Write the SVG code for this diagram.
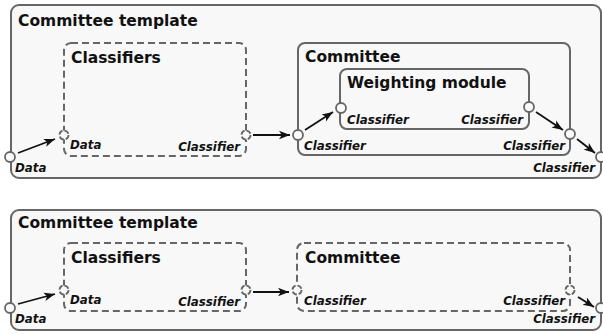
<svg xmlns="http://www.w3.org/2000/svg" width="603" height="334" viewBox="0 0 603 334">
<style>
.frame{fill:#f8f8f8;stroke:#666;stroke-width:2}
.box{fill:#f8f8f8;stroke:#666;stroke-width:2}
.dbox{fill:none;stroke:#666;stroke-width:2;stroke-dasharray:7,4}
.port{fill:#fafafa;stroke:#666;stroke-width:1.8}
.dport{fill:#f8f8f8;stroke:#666;stroke-width:1.8;stroke-dasharray:5.07,2}
.title{font-family:"DejaVu Sans",sans-serif;font-weight:bold;font-size:15.5px;fill:#111}
.lbl{font-family:"DejaVu Sans",sans-serif;font-weight:bold;font-style:italic;font-size:11.8px;fill:#111}
.end{text-anchor:end}
.conn{stroke:#111;stroke-width:1.8;fill:none;marker-end:url(#ah)}
</style>
<defs>
<marker id="ah" markerUnits="userSpaceOnUse" markerWidth="12" markerHeight="10" refX="11" refY="5" orient="auto">
<path d="M0,0.8 L11,5 L0,9.2 L2.8,5 z" fill="#111"/>
</marker>
</defs>

<g id="top-template">
<rect class="frame" x="11" y="5" width="590" height="173" rx="8"/>
<text class="title" x="18" y="26">Committee template</text>
<circle class="port" cx="10" cy="157" r="5"/>
<text class="lbl" x="15" y="172">Data</text>
<circle class="port" cx="601" cy="157" r="5"/>
<text class="lbl end" x="595" y="172">Classifier</text>
</g>
<g id="top-classifiers">
<rect class="dbox" x="64" y="43" width="182" height="113" rx="7"/>
<text class="title" x="71" y="63">Classifiers</text>
<circle class="dport" cx="64" cy="135" r="4.5"/>
<text class="lbl" x="70" y="149">Data</text>
<circle class="dport" cx="246" cy="135" r="4.5"/>
<text class="lbl end" x="240" y="151">Classifier</text>
</g>
<g id="top-committee">
<rect class="box" x="298" y="43" width="272" height="112" rx="7"/>
<text class="title" x="305" y="62">Committee</text>
<circle class="port" cx="298" cy="135" r="5"/>
<text class="lbl" x="304" y="150">Classifier</text>
<circle class="port" cx="570" cy="134" r="5"/>
<text class="lbl end" x="565" y="150">Classifier</text>
</g>
<g id="top-weighting">
<rect class="box" x="340" y="69" width="189" height="60" rx="7"/>
<text class="title" x="347" y="88">Weighting module</text>
<circle class="port" cx="341" cy="108" r="5"/>
<text class="lbl" x="347" y="124">Classifier</text>
<circle class="port" cx="529" cy="107" r="5"/>
<text class="lbl end" x="523" y="124">Classifier</text>
</g>

<g id="bottom-template">
<rect class="frame" x="11" y="210" width="590" height="120" rx="8"/>
<text class="title" x="18" y="228">Committee template</text>
<circle class="port" cx="10" cy="308" r="5"/>
<text class="lbl" x="15" y="323">Data</text>
<circle class="port" cx="601" cy="308" r="5"/>
<text class="lbl end" x="595" y="323">Classifier</text>
</g>
<g id="bottom-classifiers">
<rect class="dbox" x="64" y="243" width="182" height="68" rx="7"/>
<text class="title" x="71" y="263">Classifiers</text>
<circle class="dport" cx="64" cy="290" r="4.5"/>
<text class="lbl" x="70" y="304">Data</text>
<circle class="dport" cx="246" cy="290" r="4.5"/>
<text class="lbl end" x="240" y="306">Classifier</text>
</g>
<g id="bottom-committee">
<rect class="dbox" x="297" y="243" width="273" height="68" rx="7"/>
<text class="title" x="305" y="263">Committee</text>
<circle class="dport" cx="297" cy="290" r="4.5"/>
<text class="lbl" x="304" y="305">Classifier</text>
<circle class="dport" cx="570" cy="290" r="4.5"/>
<text class="lbl end" x="565" y="305">Classifier</text>
</g>

<g id="connectors">
<line class="conn" x1="18" y1="153" x2="55" y2="139"/>
<line class="conn" x1="253" y1="135" x2="290" y2="135"/>
<line class="conn" x1="305" y1="130" x2="333" y2="112"/>
<line class="conn" x1="536" y1="112" x2="563" y2="130"/>
<line class="conn" x1="577" y1="139" x2="595" y2="153"/>
<line class="conn" x1="18" y1="304" x2="55" y2="294"/>
<line class="conn" x1="253" y1="292" x2="289" y2="292"/>
<line class="conn" x1="578" y1="297" x2="594" y2="307"/>
</g>
</svg>
